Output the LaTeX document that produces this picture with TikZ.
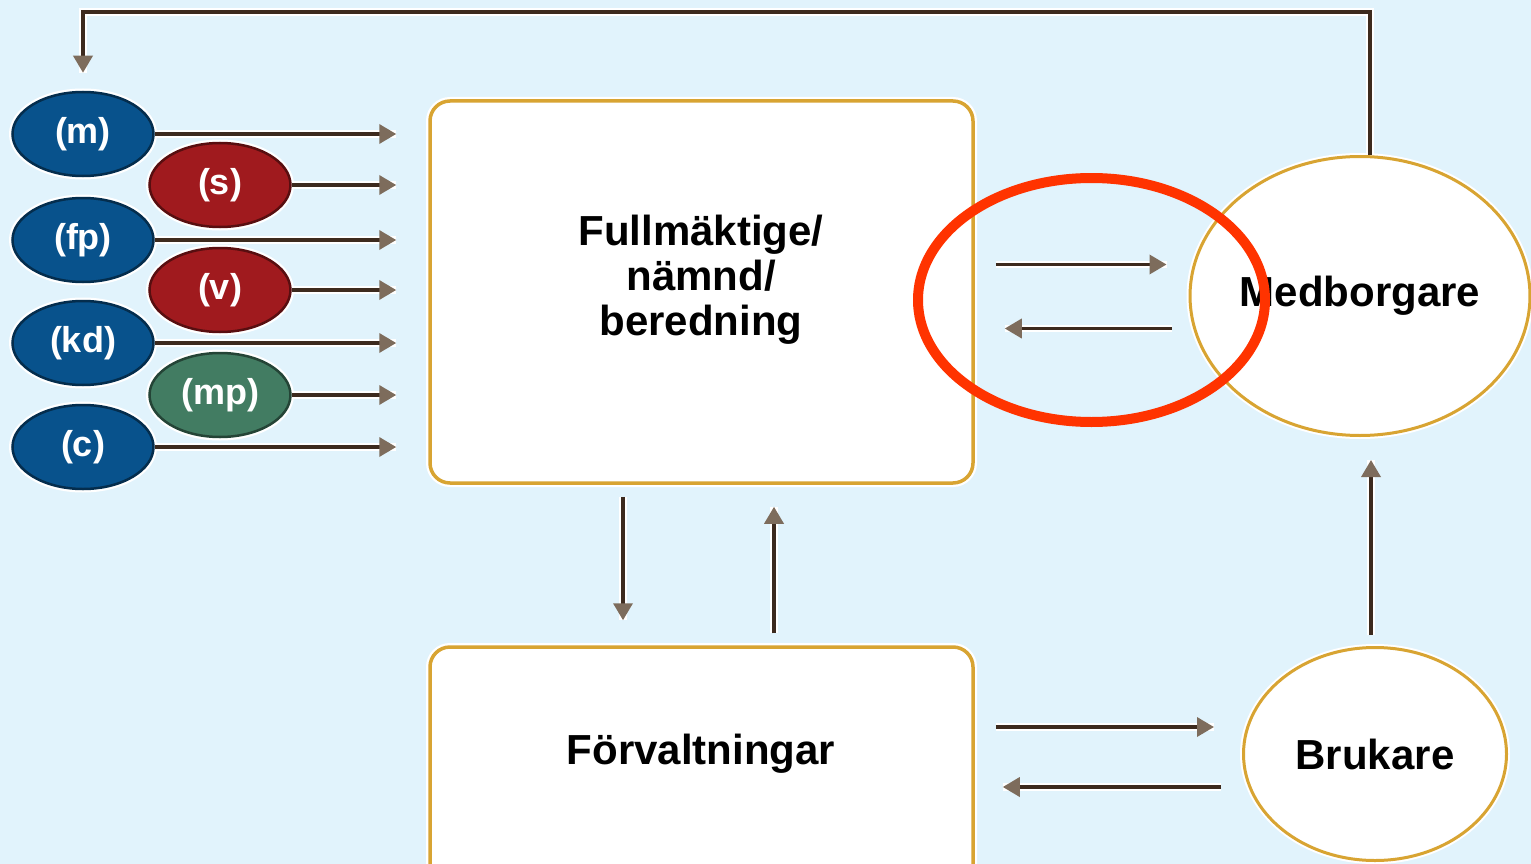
\documentclass[tikz,border=0pt]{standalone}
\usepackage{fontspec}
\setmainfont{Liberation Sans}
\usetikzlibrary{shapes.geometric,arrows.meta,positioning,calc}
\definecolor{bgblue}{RGB}{225,243,252}
\definecolor{boxgold}{RGB}{216,164,50}
\definecolor{linebrown}{RGB}{60,42,30}
\definecolor{tipbrown}{RGB}{125,108,92}
\definecolor{pblue}{RGB}{8,82,140}
\definecolor{pred}{RGB}{160,26,30}
\definecolor{pgreen}{RGB}{66,124,98}
\definecolor{ringred}{RGB}{255,51,0}

\begin{document}
\begin{tikzpicture}[x=1pt,y=-1pt,
    party/.style={ellipse, fill=#1, draw=#1!55!black, line width=2.5pt,
        preaction={draw=white, line width=7pt},
        minimum width=141pt, minimum height=84pt, inner sep=0pt,
        text=white, font=\fontsize{36}{38}\selectfont\bfseries},
    box/.style={rectangle, rounded corners=20pt, draw=boxgold, fill=white,
        line width=3.5pt, preaction={draw=white, line width=8pt}},
    actor/.style={ellipse, draw=boxgold, fill=white, line width=3pt,
        preaction={draw=white, line width=7pt}, inner sep=0pt},
    lbl/.style={font=\fontsize{42}{45}\selectfont\bfseries, align=center},
    arr/.style={draw=linebrown, line width=3.5pt,
        -{Triangle[length=17pt,width=19pt,color=tipbrown]},
        preaction={draw=white, line width=7.5pt, -}}]
    % Canvas
    \clip (0,0) rectangle (1531,864);
    \fill[bgblue] (0,0) rectangle (1531,864);

    % Boxes
    \node[box, minimum width=543pt, minimum height=382pt] (fb) at (701.5,292) {};
    \node[lbl] (fbt) at (701,280) {Fullmäktige/\\nämnd/\\beredning};
    \node[box, minimum width=543pt, minimum height=296pt] (fv) at (701.5,795) {};
    \node[lbl] (fvt) at (701,754) {Förvaltningar};

    % Citizens and users
    \node[actor, minimum width=333pt, minimum height=279pt, lbl] (med) at (1360,296) {Medborgare};
    \node[actor, minimum width=263pt, minimum height=213pt, lbl] (bru) at (1375,754) {Brukare};

    % Parties
    \foreach \n/\t/\col/\x/\y in {pm/m/pblue/83/134, ps/s/pred/220/185,
            pfp/fp/pblue/83/240, pv/v/pred/220/290, pkd/kd/pblue/83/343,
            pmp/mp/pgreen/220/395, pc/c/pblue/83/447}
        \node[party=\col] (\n) at (\x,\y) {(\t)};
    \foreach \n in {pm,ps,pfp,pv,pkd,pmp,pc}
        \draw[arr, shorten >=32pt] (\n.east) -- (\n.east -| fb.west);

    % Council <-> citizens
    \draw[arr, shorten <=21pt, shorten >=22pt] ([yshift=27.5pt]fb.east) -- ([yshift=27.5pt]fb.east -| med.west);
    \draw[arr, shorten <=17pt, shorten >=30pt] ([yshift=-32.5pt]med.west) -- ([yshift=-32.5pt]med.west -| fb.east);

    % Council <-> administration
    \draw[arr, shorten <=12pt, shorten >=25pt] ([xshift=-78.5pt]fb.south) -- ([xshift=-78.5pt]fb.south |- fv.north);
    \draw[arr, shorten <=12pt, shorten >=22pt] ([xshift=72.5pt]fv.north) -- ([xshift=72.5pt]fv.north |- fb.south);

    % Administration <-> users
    \draw[arr, shorten <=21pt, shorten >=28pt] ([yshift=27pt]bru.west -| fv.east) -- ([yshift=27pt]bru.west);
    \draw[arr, shorten <=21pt, shorten >=28pt] ([yshift=-33pt]bru.west) -- ([yshift=-33pt]bru.west -| fv.east);

    % Users -> citizens
    \draw[arr, shorten <=11pt, shorten >=23pt] ([xshift=-4pt]bru.north) -- ([xshift=-4pt]bru.north |- med.south);

    % Feedback to parties
    \coordinate (loop) at (pm.north |- 0,12);
    \draw[arr, shorten >=18pt] ([xshift=10pt]med.north) |- (loop) -- (pm.north);

    % Highlight
    \draw[ringred, line width=10pt] (1091.5,300) ellipse [x radius=173.5, y radius=122];
\end{tikzpicture}
\end{document}
